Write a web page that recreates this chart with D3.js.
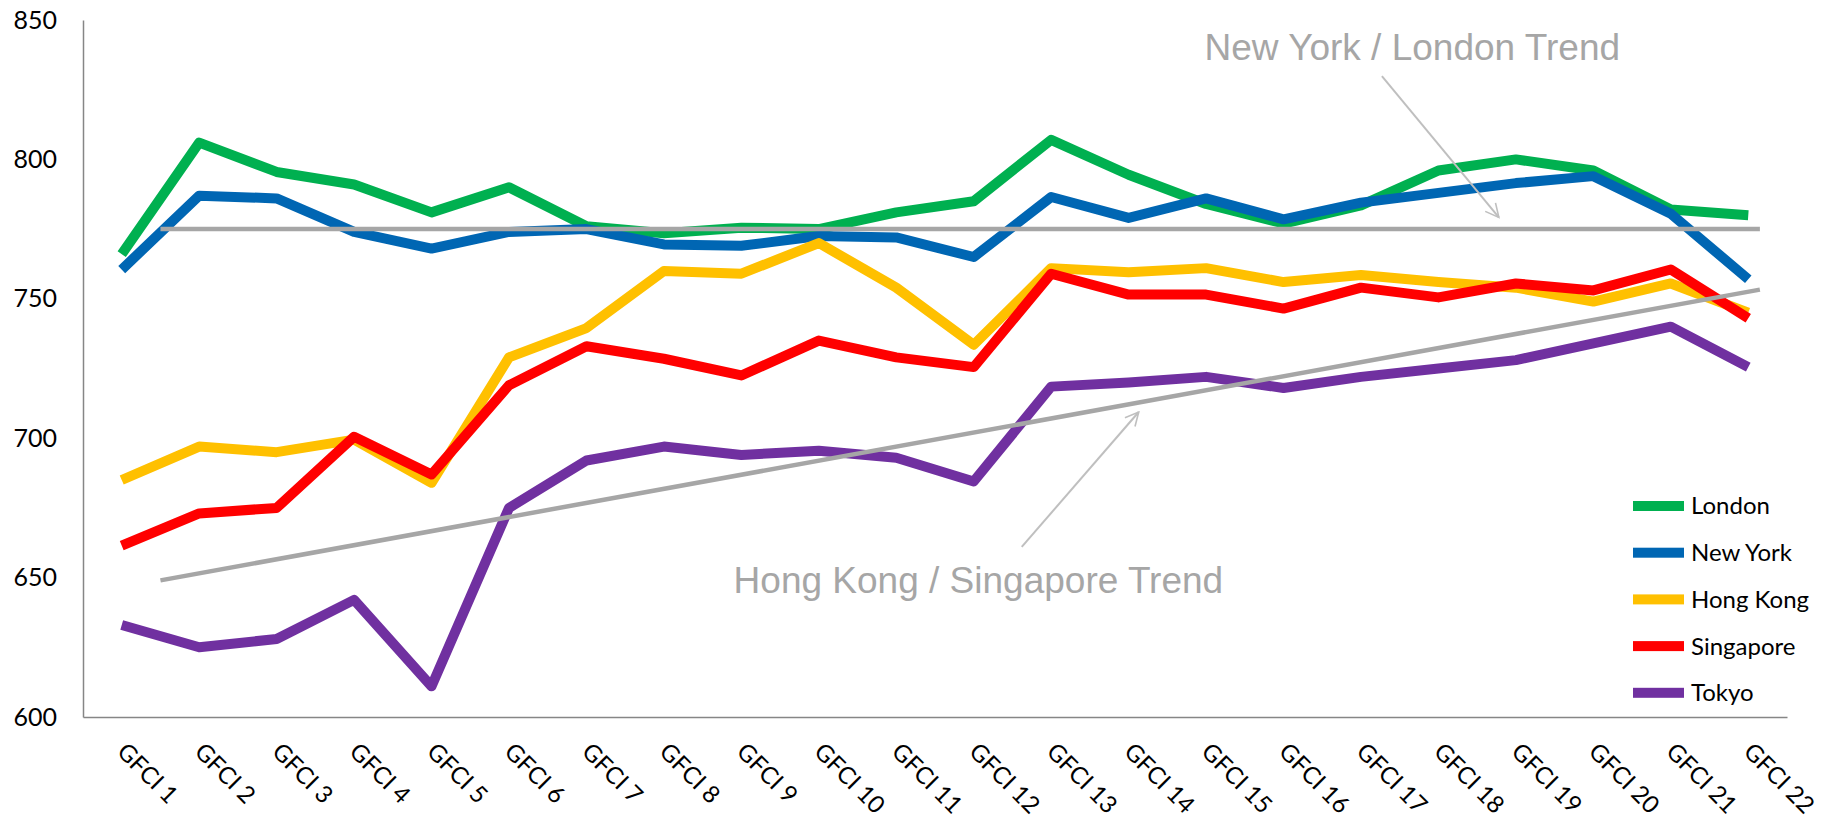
<!DOCTYPE html>
<html>
<head>
<meta charset="utf-8">
<script src="https://cdn.jsdelivr.net/npm/d3@7"></script>
<style>
  html, body { margin: 0; padding: 0; background: #fff; }
  svg { display: block; }
  .axis text { font-family: Lato, "Open Sans", sans-serif; fill: #000; }
</style>
</head>
<body>
<div id="chart"></div>
<script>
// tick labels
var labels = ["GFCI 1","GFCI 2","GFCI 3","GFCI 4","GFCI 5","GFCI 6","GFCI 7","GFCI 8","GFCI 9","GFCI 10","GFCI 11",
              "GFCI 12","GFCI 13","GFCI 14","GFCI 15","GFCI 16","GFCI 17","GFCI 18","GFCI 19","GFCI 20","GFCI 21","GFCI 22"];
var yTicks = [600, 650, 700, 750, 800, 850];

// series values
var london    = [766, 806, 795.5, 791, 781, 790, 776, 773.5, 775.5, 775, 781, 785, 807, 794.5, 784, 777, 783.5, 796, 800, 796, 782, 780];
var newYork   = [760.5, 787, 786, 774, 768, 774, 775, 769.5, 769, 772.5, 772, 765, 786.5, 779, 786, 778.5, 784.5, 788, 791.5, 794, 780.5, 757];
var hongKong  = [685, 697, 695, 699.5, 684, 729, 739.5, 760, 759, 770, 754, 733.5, 761, 759.5, 761, 756, 758.5, 756, 754, 749, 755.5, 745];
var singapore = [661.5, 673, 675, 700.5, 687, 719, 733, 728.5, 722.5, 735, 729, 725.5, 759, 751.5, 751.5, 746.5, 754, 750.5, 755.5, 753, 760.5, 743];
var tokyo     = [633, 625, 628, 642, 611, 675, 692, 697, 694, 695.5, 693, 684.5, 718.5, 720, 722, 718, 722, 725, 728, 734, 740, 725.5];

// trend lines (x as category index, y as value)
var trendIdx   = [0.5, 21.15];
var nyLdnTrend = [775, 775];
var hkSgTrend  = [649, 753.3];

var series = [
  {name: "London",    values: london,    color: "#00B050"},
  {name: "New York",  values: newYork,   color: "#0066B3"},
  {name: "Hong Kong", values: hongKong,  color: "#FFC000"},
  {name: "Singapore", values: singapore, color: "#FF0000"},
  {name: "Tokyo",     values: tokyo,     color: "#7030A0"}
];

var width = 1833, height = 824;
var plotLeft = 83, plotRight = 1787, plotTop = 20, plotBottom = 717;

var svg = d3.select("#chart").append("svg")
    .attr("width", width)
    .attr("height", height);

// scales
var x = d3.scaleBand().domain(labels).range([plotLeft, plotRight]);
var bw = x.bandwidth();
var xi = d3.scaleLinear().domain([0, labels.length - 1])
    .range([x(labels[0]) + bw / 2, x(labels[labels.length - 1]) + bw / 2]);
var y = d3.scaleLinear().domain([600, 850]).range([plotBottom, plotTop]);

// y axis
var yAxis = svg.append("g")
    .attr("class", "axis")
    .attr("transform", "translate(" + plotLeft + ",0)")
    .call(d3.axisLeft(y).tickValues(yTicks).tickSize(0).tickPadding(26));
yAxis.select(".domain").attr("stroke", "#868686").attr("stroke-width", 1.5);
yAxis.selectAll("text").style("font-size", "25px");

// x axis
var xAxis = svg.append("g")
    .attr("class", "axis")
    .attr("transform", "translate(0," + plotBottom + ")")
    .call(d3.axisBottom(x).tickSize(0).tickSizeOuter(0));
xAxis.select(".domain").attr("stroke", "#868686").attr("stroke-width", 1.5);
xAxis.selectAll("text")
    .style("font-size", "24px")
    .attr("text-anchor", "start")
    .attr("dy", 0)
    .attr("y", 0)
    .attr("transform", "translate(-6,36) rotate(45)");

// series lines
var line = d3.line()
    .x((d, i) => xi(i))
    .y(d => y(d));

svg.selectAll("path.series")
    .data(series)
    .enter().append("path")
    .attr("class", "series")
    .attr("fill", "none")
    .attr("stroke", d => d.color)
    .attr("stroke-width", 10)
    .attr("stroke-linejoin", "round")
    .attr("d", d => line(d.values));

// trend lines
var trendLine = d3.line()
    .x((d, i) => xi(trendIdx[i]))
    .y(d => y(d));

[nyLdnTrend, hkSgTrend].forEach(function(t) {
  svg.append("path")
    .attr("fill", "none")
    .attr("stroke", "#A6A6A6")
    .attr("stroke-width", 4.5)
    .attr("d", trendLine(t));
});

// arrow marker
svg.append("defs").append("marker")
    .attr("id", "arrow")
    .attr("viewBox", "0 0 12 12")
    .attr("refX", 11).attr("refY", 6)
    .attr("markerWidth", 8).attr("markerHeight", 8)
    .attr("markerUnits", "strokeWidth")
    .attr("orient", "auto")
    .append("path")
    .attr("d", "M1,1 L11,6 L1,11")
    .attr("fill", "none")
    .attr("stroke", "#BFBFBF")
    .attr("stroke-width", 1.2);

// annotations (positions in data space)
var notes = [
  {text: "New York / London Trend", tx: 13.98, ty: 835.7, from: [16.27, 829.9], to: [17.78, 779.2]},
  {text: "Hong Kong / Singapore Trend", tx: 7.9, ty: 644.5, from: [11.62, 661], to: [13.13, 709.4]}
];

notes.forEach(function(n) {
  svg.append("line")
    .attr("x1", xi(n.from[0])).attr("y1", y(n.from[1]))
    .attr("x2", xi(n.to[0])).attr("y2", y(n.to[1]))
    .attr("stroke", "#BFBFBF")
    .attr("stroke-width", 2)
    .attr("marker-end", "url(#arrow)");
  svg.append("text")
    .attr("x", xi(n.tx)).attr("y", y(n.ty))
    .attr("fill", "#A6A6A6")
    .style("font-family", "'Liberation Sans', Arial, sans-serif")
    .style("font-size", "37px")
    .text(n.text);
});

// legend
var legend = svg.append("g").attr("transform", "translate(1633,506)");
var item = legend.selectAll("g")
    .data(series)
    .enter().append("g")
    .attr("transform", (d, i) => "translate(0," + (i * 46.7) + ")");
item.append("rect")
    .attr("x", 0).attr("y", -5)
    .attr("width", 51).attr("height", 10)
    .attr("fill", d => d.color);
item.append("text")
    .attr("x", 58).attr("y", 0)
    .attr("dy", "0.35em")
    .style("font-family", "Lato, 'Open Sans', sans-serif")
    .style("font-size", "24px")
    .text(d => d.name);
</script>
</body>
</html>
